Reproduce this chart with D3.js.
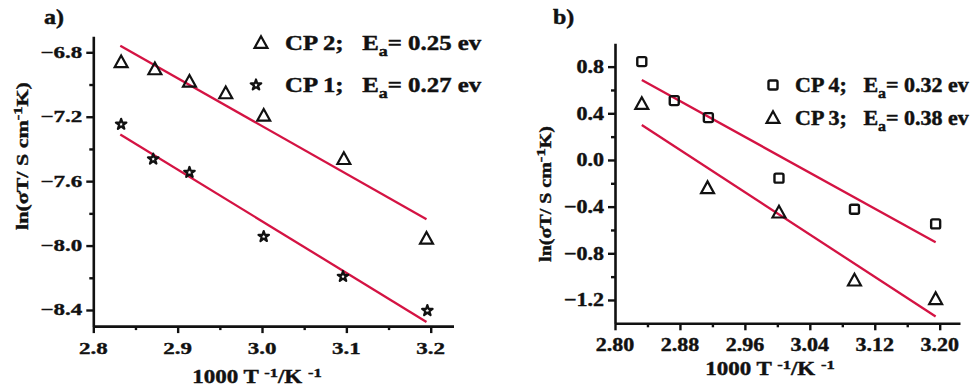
<!DOCTYPE html>
<html><head><meta charset="utf-8">
<script src="https://cdn.jsdelivr.net/npm/d3@7"></script>
<style>
body{margin:0;background:#fff;}
svg{display:block;}
text{font-family:"Liberation Serif","Times New Roman",serif;font-weight:bold;fill:#111;stroke:#111;stroke-width:0.5px;white-space:pre;}
</style></head><body>
<svg id="c" width="979" height="390"></svg>
<script>
// ---------- data (panel a) ----------
const xCP2 = [2.833, 2.873, 2.914, 2.957, 3.002, 3.097, 3.195];
const yCP2 = [-6.862, -6.906, -6.983, -7.055, -7.194, -7.463, -7.958];
const xCP1 = [2.833, 2.871, 2.914, 3.002, 3.096, 3.196];
const yCP1 = [-7.247, -7.463, -7.546, -7.944, -8.192, -8.404];
const fitXa = [2.832, 3.195];
const fitCP2 = [-6.759, -7.837];
const fitCP1 = [-7.31, -8.474];
const xTicksA = [2.8, 2.9, 3.0, 3.1, 3.2];
const xMinorA = [2.85, 2.95, 3.05, 3.15];
const yTicksA = [-6.8, -7.2, -7.6, -8.0, -8.4];
const yMinorA = [-7.0, -7.4, -7.8, -8.2];
const legendA = [["CP 2;   E", "a", "= 0.25 ev"], ["CP 1;   E", "a", "= 0.27 ev"]];

// ---------- data (panel b) ----------
const xCP4 = [2.833, 2.873, 2.915, 3.002, 3.095, 3.195];
const yCP4 = [0.843, 0.509, 0.363, -0.156, -0.422, -0.548];
const xCP3 = [2.833, 2.914, 3.002, 3.095, 3.195];
const yCP3 = [0.48, -0.242, -0.451, -1.034, -1.193];
const fitXb = [2.833, 3.195];
const fitCP4 = [0.686, -0.705];
const fitCP3 = [0.30, -1.342];
const xTicksB = [2.80, 2.88, 2.96, 3.04, 3.12, 3.20];
const xMinorB = [2.84, 2.92, 3.00, 3.08, 3.16];
const yTicksB = [0.8, 0.4, 0.0, -0.4, -0.8, -1.2];
const yMinorB = [0.6, 0.2, -0.2, -0.6, -1.0];
const legendB = [["CP 4;   E", "a", "= 0.32 ev"], ["CP 3;   E", "a", "= 0.38 ev"]];

const RED = "#d41343";
const svg = d3.select("#c");

function txt(g, x, y, s, opts) {
  const o = Object.assign({size: 20, sy: 1, sx: 1, anchor: "start", rot: 0}, opts || {});
  const gg = g.append("g").attr("transform", `translate(${x},${y}) rotate(${o.rot}) scale(${o.sx},${o.sy})`);
  const t = gg.append("text").attr("font-size", o.size).attr("text-anchor", o.anchor);
  if (typeof s === "string") t.text(s); else s(t);
  return t;
}

function triPath(r) { return `M0,${-r}L${r*0.95},${r*0.72}L${-r*0.95},${r*0.72}Z`; }

function panel(cfg) {
  const g = svg.append("g");
  const x = d3.scaleLinear().domain(cfg.xDom).range(cfg.xRange);
  const y = d3.scaleLinear().domain(cfg.yDom).range(cfg.yRange);
  const x0 = cfg.xRange[0], y0 = cfg.yRange[0];
  g.append("g").attr("transform", `translate(0,${y0})`)
    .call(d3.axisBottom(x).tickValues(cfg.xTicks).tickFormat("").tickSize(7).tickSizeOuter(0));
  g.append("g").attr("transform", `translate(0,${y0})`)
    .call(d3.axisBottom(x).tickValues(cfg.xMinor).tickFormat("").tickSize(4).tickSizeOuter(0))
    .select(".domain").remove();
  g.append("g").attr("transform", `translate(${x0},0)`)
    .call(d3.axisLeft(y).tickValues(cfg.yTicks).tickFormat("").tickSize(7).tickSizeOuter(0));
  g.append("g").attr("transform", `translate(${x0},0)`)
    .call(d3.axisLeft(y).tickValues(cfg.yMinor).tickFormat("").tickSize(4).tickSizeOuter(0))
    .select(".domain").remove();
  g.selectAll(".domain").attr("stroke", "#111").attr("stroke-width", 2.6);
  g.selectAll(".tick line").attr("stroke", "#111").attr("stroke-width", 2.4);

  cfg.xTicks.forEach(v => txt(g, x(v), y0 + 28, cfg.xFmt(v), {size: cfg.tickSize, sy: cfg.tickSy, anchor: "middle"}));
  cfg.yTicks.forEach(v => txt(g, x0 - 11, y(v) + 0.33 * cfg.tickSize * cfg.tickSy, cfg.yFmt(v), {size: cfg.tickSize, sy: cfg.tickSy, anchor: "end"}));

  txt(g, cfg.xTitle[0], cfg.xTitle[1], t => {
    t.append("tspan").text("1000 T ");
    t.append("tspan").attr("font-size", cfg.titleSize * 0.72).attr("dy", -8).text("-1");
    t.append("tspan").attr("dy", 8).text("/K ");
    t.append("tspan").attr("font-size", cfg.titleSize * 0.72).attr("dy", -8).text("-1");
  }, {size: cfg.titleSize, sy: cfg.titleSy, anchor: "middle"});
  txt(g, cfg.yTitle[0], cfg.yTitle[1], t => {
    t.append("tspan").text("ln(σT/ S cm");
    t.append("tspan").attr("font-size", cfg.titleSize * 0.72).attr("dy", -8).text("-1");
    t.append("tspan").attr("dy", 8).text("K)");
  }, {size: cfg.yTitleSize, sy: cfg.titleSy, anchor: "middle", rot: -90});

  txt(g, cfg.label[0], cfg.label[1], cfg.label[2], {size: 24, sy: 0.85});

  cfg.fits.forEach(f => {
    g.append("line").attr("x1", x(f.x[0])).attr("y1", y(f.y[0])).attr("x2", x(f.x[1])).attr("y2", y(f.y[1]))
      .attr("stroke", RED).attr("stroke-width", 2.3);
  });

  cfg.series.forEach(s => {
    const pts = s.x.map((xv, i) => [x(xv), y(s.y[i])]);
    drawMarkers(g, pts, s.shape);
  });

  cfg.legend.forEach((row, i) => {
    const L = cfg.legendPos[i];
    drawMarkers(g, [[L[0], L[1]]], row.shape);
    txt(g, L[2], L[3], t => {
      t.append("tspan").text(row.text[0]);
      t.append("tspan").attr("font-size", cfg.legSize * 0.72).attr("dy", 6).text(row.text[1]);
      t.append("tspan").attr("dy", -6).text(row.text[2]);
    }, {size: cfg.legSize, sy: cfg.legSy, sx: cfg.legSx});
  });
}

function drawMarkers(g, pts, shape) {
  pts.forEach(p => {
    if (shape === "tri") {
      g.append("path").attr("transform", `translate(${p[0]},${p[1]})`).attr("d", triPath(6.8))
        .attr("fill", "none").attr("stroke", "#111").attr("stroke-width", 2.2);
    } else if (shape === "star") {
      g.append("path").attr("transform", `translate(${p[0]},${p[1]})`).attr("d", d3.symbol(d3.symbolStar, 34)())
        .attr("fill", "#fff").attr("stroke", "#111").attr("stroke-width", 2.2).attr("stroke-linejoin", "round");
    } else {
      g.append("rect").attr("x", p[0] - 4.5).attr("y", p[1] - 4.5).attr("width", 9).attr("height", 9)
        .attr("rx", 1.5).attr("fill", "none").attr("stroke", "#111").attr("stroke-width", 2.4);
    }
  });
}

panel({
  xDom: [2.8, 3.227], xRange: [93.3, 453.5],
  yDom: [-8.5, -6.7], yRange: [326.1, 36.2],
  xTicks: xTicksA, xMinor: xMinorA, yTicks: yTicksA, yMinor: yMinorA,
  xFmt: d3.format(".1f"), yFmt: d3.format(".1f"),
  tickSize: 23, tickSy: 0.72,
  titleSize: 23, yTitleSize: 22, titleSy: 0.8,
  xTitle: [257, 383], yTitle: [28, 156],
  label: [44, 24, "a)"],
  fits: [{x: fitXa, y: fitCP2}, {x: fitXa, y: fitCP1}],
  series: [{x: xCP2, y: yCP2, shape: "tri"}, {x: xCP1, y: yCP1, shape: "star"}],
  legend: [{text: legendA[0], shape: "tri"}, {text: legendA[1], shape: "star"}],
  legendPos: [[261, 43, 285, 50], [256, 85, 285, 92]],
  legSize: 23, legSy: 0.92, legSx: 1.08
});

panel({
  xDom: [2.8, 3.225], xRange: [615, 960],
  yDom: [-1.4, 1.0], yRange: [323.3, 43.3],
  xTicks: xTicksB, xMinor: xMinorB, yTicks: yTicksB, yMinor: yMinorB,
  xFmt: d3.format(".2f"), yFmt: d3.format(".1f"),
  tickSize: 22, tickSy: 0.88,
  titleSize: 23, yTitleSize: 20, titleSy: 0.8,
  xTitle: [770, 375], yTitle: [551, 194],
  label: [553, 24, "b)"],
  fits: [{x: fitXb, y: fitCP4}, {x: fitXb, y: fitCP3}],
  series: [{x: xCP4, y: yCP4, shape: "sq"}, {x: xCP3, y: yCP3, shape: "tri"}],
  legend: [{text: legendB[0], shape: "sq"}, {text: legendB[1], shape: "tri"}],
  legendPos: [[773, 85, 795, 92], [773, 118, 795, 125]],
  legSize: 22, legSy: 0.92, legSx: 1.0
});
</script></body></html>
